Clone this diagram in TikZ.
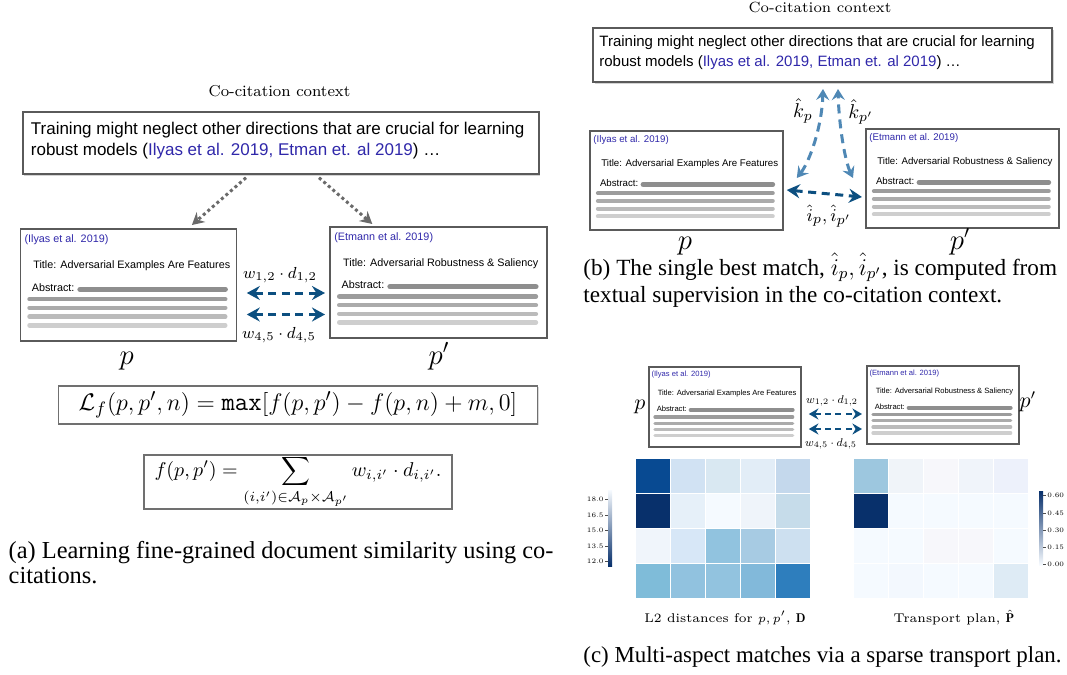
\documentclass[tikz,border=0pt]{standalone}
\usepackage{fontspec}
\setsansfont{Liberation Sans}
\newfontfamily\timesf{Liberation Serif}
\usepackage{amsmath}
\usetikzlibrary{calc,arrows.meta,shadows}

\definecolor{framegray}{HTML}{5A5A5A}
\definecolor{eqgray}{HTML}{707070}
\definecolor{citeblue}{RGB}{48,40,170}
\definecolor{darkarr}{HTML}{0C4F80}
\definecolor{lightarr}{HTML}{4F88B5}
\definecolor{dotgray}{HTML}{6A6A6A}
\definecolor{barA}{HTML}{8E8E8E}
\definecolor{barB}{HTML}{9C9C9C}
\definecolor{barC}{HTML}{ABABAB}
\definecolor{barD}{HTML}{BBBBBB}
\definecolor{barE}{HTML}{CECECE}
\definecolor{cbdark}{HTML}{08306B}
\definecolor{cbmid}{HTML}{6BAED6}
\definecolor{cblight}{HTML}{F7FBFF}

\tikzset{
  docframe/.style={draw=framegray, line width=0.9pt, fill=white, inner sep=0pt},
  doctext/.style={anchor=west, inner sep=0pt},
  ctxbox/.style={draw=framegray, line width=1pt, fill=white, inner sep=0pt,
    drop shadow={opacity=0.35, shadow xshift=0.8pt, shadow yshift=-0.8pt}},
  eqbox/.style={draw=eqgray, line width=0.8pt, fill=white, inner sep=0pt,
    drop shadow={opacity=0.3, shadow xshift=0.7pt, shadow yshift=-0.7pt}},
  lbl/.style={inner sep=0pt},
  wlbl/.style={inner sep=0pt, font=\fontsize{8}{9}\selectfont},
  dotarr/.style={dotgray, line width=1.5pt, dash pattern=on 1.5pt off 1.5pt,
    -{Stealth[length=6pt,width=6.5pt,inset=2pt]}},
  darr/.style={darkarr, line width=1.5pt, dash pattern=on 4pt off 2.8pt,
    {Stealth[length=6.5pt,width=7pt,inset=2.2pt]}-{Stealth[length=6.5pt,width=7pt,inset=2.2pt]}},
  darrs/.style={darkarr, line width=1.1pt, dash pattern=on 3pt off 2.2pt,
    {Stealth[length=4.8pt,width=5.5pt,inset=1.6pt]}-{Stealth[length=4.8pt,width=5.5pt,inset=1.6pt]}},
  larr/.style={lightarr, line width=1.5pt, dash pattern=on 4.5pt off 3pt,
    {Stealth[length=5.5pt,width=6.5pt,inset=2pt]}-{Stealth[length=5.5pt,width=6.5pt,inset=2pt]}},
  cell/.style={draw=white, line width=0.25pt},
  tick/.style={draw=black!70, line width=0.3pt},
  ticklbl/.style={inner sep=0pt, font=\fontsize{3.4}{4}\selectfont},
  caption/.style={inner sep=0pt, anchor=base west},
}

\newcommand\docbox[8]{%
  \node[docframe, anchor=north west, minimum width={#4*0.5pt}, minimum height={#5*0.5pt}] (#1) at (#2,#3) {};
  \node[doctext, text=citeblue, font=\sffamily\fontsize{#6}{#6}\selectfont] (#1-cite) at ($(#1.north west)+({0.021*#4},{0.104*#5})$) {#7};
  \node[doctext, font=\sffamily\fontsize{#6}{#6}\selectfont] (#1-title) at ($(#1.north west)+({0.062*#4},{0.342*#5})$) {#8};
  \node[doctext, font=\sffamily\fontsize{#6}{#6}\selectfont] (#1-abs) at ($(#1.north west)+({0.055*#4},{0.533*#5})$) {Abstract:};
  \draw[barA, line cap=round, line width={0.0125*#4pt}] ($(#1.north west)+({0.28*#4},{0.55*#5})$) -- ($(#1.north west)+({0.952*#4},{0.55*#5})$);
  \foreach \yy/\cc in {0.638/barB,0.716/barC,0.795/barD,0.872/barE}{
    \draw[\cc, line cap=round, line width={0.0105*#4pt}] ($(#1.north west)+({0.046*#4},{\yy*#5})$) -- ($(#1.north west)+({0.952*#4},{\yy*#5})$);
  }
}

\begin{document}
\begin{tikzpicture}[x=0.5pt,y=-0.5pt]
\path[use as bounding box] (0,0) rectangle (1067,675);

%================ (a) =================
\node[lbl, anchor=base, font=\fontsize{7.9}{9}\selectfont] (ccA) at (279.5,96.7) {Co-citation context};
\node[ctxbox, minimum width={516*0.5pt}, minimum height={62*0.5pt}] (ctxA) at (280.5,143.2) {};
\node[lbl, anchor=west, align=left, font=\sffamily\fontsize{8.5}{10.5}\selectfont] (ctxAtxt) at ($(ctxA.west)+(9,-2.5)$)
  {Training might neglect other directions that are crucial for learning\\robust models ({\color{citeblue}Ilyas et al. 2019, Etman et. al 2019}) …};

\docbox{docAL}{19.6}{227.7}{216}{112}{5.4}{(Ilyas et al. 2019)}{Title: Adversarial Examples Are Features}
\docbox{docAR}{329.3}{225.7}{217}{111}{5.4}{(Etmann et al. 2019)}{Title: Adversarial Robustness \& Saliency}

\draw[dotarr] ($(ctxA.south)+(-34.5,2.5)$) -- ($(docAL.north)+(63.4,-2.7)$);
\draw[dotarr] ($(ctxA.south)+(38.5,2.5)$) -- ($(docAR.north)+(-66.4,-1.7)$);

\draw[darr] ($(docAL.north east)+(9.4,65.3)$) -- ($(docAR.north west)+(-4.3,67.3)$);
\draw[darr] ($(docAL.north east)+(9.4,86.8)$) -- ($(docAR.north west)+(-4.3,88.8)$);
\node[wlbl] (w12a) at (280,275) {$w_{1,2}\cdot d_{1,2}$};
\node[wlbl] (w45a) at (279,335) {$w_{4,5}\cdot d_{4,5}$};

\node[lbl, anchor=base, font=\fontsize{14}{14}\selectfont] (pA) at (126.7,364) {$p$};
\node[lbl, anchor=base, font=\fontsize{14}{14}\selectfont] (ppA) at (439,364) {$p'$};

\node[eqbox, minimum width={479*0.5pt}, minimum height={38*0.5pt}, font=\fontsize{13}{14}\selectfont] (lossbox) at (297.9,405)
  {$\mathcal{L}_f(p,p',n)=\mathtt{max}[f(p,p')-f(p,n)+m,0]$};
\node[eqbox, minimum width={308*0.5pt}, minimum height={54*0.5pt}, font=\fontsize{10}{12}\selectfont] (fbox) at (298,482)
  {$\displaystyle f(p,p')=\sum_{(i,i')\in\mathcal{A}_p\times\mathcal{A}_{p'}} w_{i,i'}\cdot d_{i,i'}.$};

\node[caption, font=\timesf\fontsize{12.2}{14}\selectfont] (capA1) at (8.3,558) {(a) Learning fine-grained document similarity using co-};
\node[caption, font=\timesf\fontsize{12.2}{14}\selectfont] (capA2) at (8.3,583) {citations.};

%================ (b) =================
\node[lbl, anchor=base, font=\fontsize{7.4}{9}\selectfont] (ccB) at (820,12) {Co-citation context};
\node[ctxbox, minimum width={459*0.5pt}, minimum height={54*0.5pt}] (ctxB) at (822.5,55) {};
\node[lbl, anchor=west, align=left, font=\sffamily\fontsize{7.5}{10}\selectfont] (ctxBtxt) at ($(ctxB.west)+(7,-2)$)
  {Training might neglect other directions that are crucial for learning\\robust models ({\color{citeblue}Ilyas et al. 2019, Etman et. al 2019}) …};

\docbox{docBL}{589}{130}{193}{99}{4.85}{(Ilyas et al. 2019)}{Title: Adversarial Examples Are Features}
\docbox{docBR}{865}{128}{193}{99}{4.85}{(Etmann et al. 2019)}{Title: Adversarial Robustness \& Saliency}

\draw[larr] ($(docBL.north east)+(13,48)$) .. controls ($(ctxB.south)+(-12.5,78)$) and ($(ctxB.south)+(-0.5,43)$) .. ($(ctxB.south)+(0.5,6)$);
\draw[larr] ($(docBR.north west)+(-12,50)$) .. controls ($(ctxB.south)+(22.5,78)$) and ($(ctxB.south)+(16.5,43)$) .. ($(ctxB.south)+(15.5,6)$);
\draw[darr] ($(docBL.north east)+(3,60)$) -- ($(docBR.north west)+(-3,69)$);

\node[lbl, font=\fontsize{10}{10}\selectfont] (kp) at (803,111) {$\hat{k}_p$};
\node[lbl, font=\fontsize{10}{10}\selectfont] (kpp) at (861,112) {$\hat{k}_{p'}$};
\node[lbl, font=\fontsize{9.5}{10}\selectfont] (ipb) at (829,216) {$\hat{i}_p,\hat{i}_{p'}$};

\node[lbl, anchor=base, font=\fontsize{13.5}{14}\selectfont] (pB) at (685,249) {$p$};
\node[lbl, anchor=base, font=\fontsize{13.5}{14}\selectfont] (ppB) at (960,249) {$p'$};

\node[caption, font=\timesf\fontsize{11.6}{14}\selectfont] (capB1) at (583,275) {(b) The single best match, $\hat{i}_p, \hat{i}_{p'}$, is computed from};
\node[caption, font=\timesf\fontsize{11.6}{14}\selectfont] (capB2) at (583,302) {textual supervision in the co-citation context.};

%================ (c) =================
\docbox{docCL}{648}{366}{152}{80}{3.8}{(Ilyas et al. 2019)}{Title: Adversarial Examples Are Features}
\docbox{docCR}{866}{365}{152}{78}{3.8}{(Etmann et al. 2019)}{Title: Adversarial Robustness \& Saliency}

\draw[darrs] ($(docCL.north east)+(7,48)$) -- ($(docCR.north west)+(-4,49)$);
\draw[darrs] ($(docCL.north east)+(7,63)$) -- ($(docCR.north west)+(-4,64)$);
\node[wlbl, scale=0.7] (w12c) at (832,401) {$w_{1,2}\cdot d_{1,2}$};
\node[wlbl, scale=0.7] (w45c) at (831,444) {$w_{4,5}\cdot d_{4,5}$};

\node[lbl, anchor=base, font=\fontsize{10.5}{11}\selectfont] (pC) at (640,409) {$p$};
\node[lbl, anchor=base, font=\fontsize{10.5}{11}\selectfont] (ppC) at (1028,407) {$p'$};

% heatmap D
\foreach \hx [count=\i from 0] in {084A92,D1E2F3,D9E8F2,E2EDF7,C4D8EC,
  08306B,E6F0F9,F5FAFF,EFF4FA,C6DCEA,
  F0F5FB,D7E7F7,91C3DF,A7CBE3,CDE0F0,
  7FBCD9,91C2DF,92C3DF,82B9DA,2E7EBD}{
  \pgfmathtruncatemacro\cc{mod(\i,5)}
  \pgfmathtruncatemacro\rr{int(\i/5)}
  \definecolor{cellc}{HTML}{\hx}
  \path[cell, fill=cellc] (635+35*\cc,458+35*\rr) rectangle ++(35,35);
}
% heatmap P
\foreach \hx [count=\i from 0] in {9DC7DF,F0F4F9,F7F7FB,F0F4FA,EDF1FB,
  08306B,F5FAFF,F5FAFF,F5FAFF,F5FAFF,
  F5FAFF,F5FAFF,F7F7FB,F7F7FB,F5FAFF,
  F5FAFF,F3F8FE,F5FAFF,F5FAFF,DEEBF5}{
  \pgfmathtruncatemacro\cc{mod(\i,5)}
  \pgfmathtruncatemacro\rr{int(\i/5)}
  \definecolor{cellc}{HTML}{\hx}
  \path[cell, fill=cellc] (853+35*\cc,458+35*\rr) rectangle ++(35,35);
}

% colorbars
\shade[top color=cblight, middle color=cbmid, bottom color=cbdark] (608,490) rectangle (612,566);
\foreach \yy/\tt in {499/18.0,515/16.5,530/15.0,546/13.5,561/12.0}{
  \draw[tick] (605,\yy) -- (608,\yy);
  \node[ticklbl, anchor=east] at (604,\yy) {\tt};
}
\shade[top color=cbdark, middle color=cbmid, bottom color=cblight] (1039,491) rectangle (1043,565);
\foreach \yy/\tt in {495/0.60,513/0.45,530/0.30,547/0.15,564/0.00}{
  \draw[tick] (1043,\yy) -- (1046,\yy);
  \node[ticklbl, anchor=west] at (1047,\yy) {\tt};
}

\node[lbl, anchor=base, font=\fontsize{6.35}{8}\selectfont] (lblD) at (725,622) {L2 distances for $p, p'$, $\mathbf{D}$};
\node[lbl, anchor=base, font=\fontsize{6.35}{8}\selectfont] (lblP) at (954,622) {Transport plan, $\hat{\mathbf{P}}$};

\node[caption, font=\timesf\fontsize{11.45}{14}\selectfont] (capC) at (583,662) {(c) Multi-aspect matches via a sparse transport plan.};
\end{tikzpicture}
\end{document}
